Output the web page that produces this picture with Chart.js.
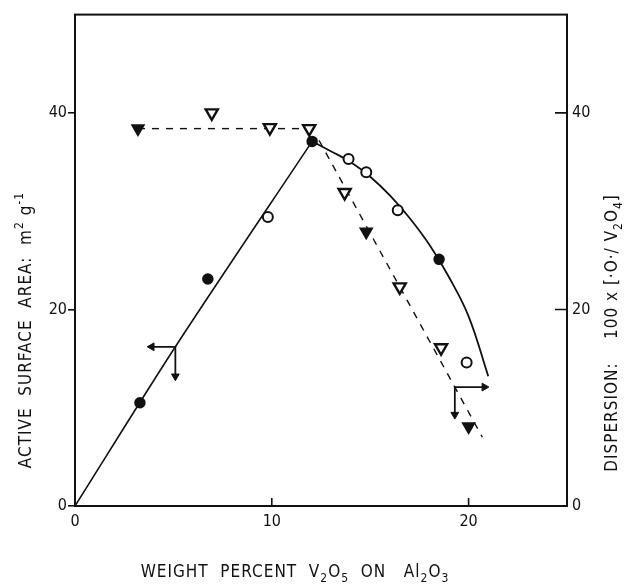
<!DOCTYPE html>
<html>
<head>
<meta charset="utf-8">
<script src="https://cdn.jsdelivr.net/npm/chart.js@4/dist/chart.umd.min.js"></script>
<style>
    body { margin: 0; background: #fff; }
    #wrap { width: 629px; height: 586px; }
</style>
</head>
<body>
<div id="wrap"><canvas id="chart"></canvas></div>
<script>
// Axis ticks
const xTicks = [0, 10, 20];
const yTicks = [0, 20, 40];

// Active surface area (left axis), circles
const areaFilledX = [3.3, 6.75, 12.05, 18.5];
const areaFilledY = [10.5, 23.1, 37.1, 25.1];
const areaOpenX = [9.8, 13.9, 14.8, 16.4, 19.9];
const areaOpenY = [29.4, 35.3, 33.95, 30.1, 14.6];

// Solid fitted curve
const riseX = [0, 5.1, 12.05];
const riseY = [0, 16.2, 37.1];
const fallX = [12.05, 13, 14, 15, 16, 17, 18, 19, 20, 21];
const fallY = [37.1, 36.1, 35.0, 33.5, 31.6, 29.3, 26.6, 23.3, 19.3, 13.2];

// Dispersion (right axis), inverted triangles
const dispFilledX = [3.2, 14.8, 20.0];
const dispFilledY = [38.4, 27.9, 8.1];
const dispOpenX = [6.95, 9.9, 11.9, 13.7, 16.5, 18.6];
const dispOpenY = [40.0, 38.5, 38.4, 31.9, 22.3, 16.1];

// Dashed fitted lines
const flatX = [3.2, 12.0];
const flatY = [38.4, 38.4];
const dropX = [12.4, 16.5, 20.7];
const dropY = [37.2, 22.3, 7.0];

// Axis arrows (stem corner, then the two tips)
const leftArrowX = [3.9, 5.1, 5.1];
const leftArrowY = [16.2, 16.2, 13.2];
const rightArrowX = [20.8, 19.3, 19.3];
const rightArrowY = [12.1, 12.1, 9.3];

const zip = (xs, ys) => xs.map((x, i) => ({ x: x, y: ys[i] }));
const ink = '#111';
const font = "'Liberation Sans Narrow', 'DejaVu Sans Condensed', 'DejaVu Sans', sans-serif";

// Draw a string made of normal / sub / sup parts, centred at (0,0)
function drawRich(ctx, parts, size) {
    const small = Math.round(size * 0.72);
    ctx.letterSpacing = '1px';
    let total = 0;
    parts.forEach(p => {
        ctx.font = (p[1] ? small : size) + 'px ' + font;
        total += ctx.measureText(p[0]).width;
    });
    let x = -total / 2;
    ctx.textBaseline = 'middle';
    ctx.textAlign = 'left';
    parts.forEach(p => {
        ctx.font = (p[1] ? small : size) + 'px ' + font;
        const dy = p[1] === 1 ? size * 0.35 : (p[1] === 2 ? -size * 0.4 : 0);
        ctx.fillText(p[0], x, dy);
        x += ctx.measureText(p[0]).width;
    });
    ctx.letterSpacing = '0px';
}

// Frame, inner ticks and axis titles
const framePlugin = {
    id: 'frame',
    afterDraw(chart) {
        const ctx = chart.ctx;
        const a = chart.chartArea;
        const xs = chart.scales.x;
        const yr = chart.scales.y2;
        ctx.save();
        ctx.strokeStyle = ink;
        ctx.fillStyle = ink;
        ctx.lineWidth = 2;
        ctx.strokeRect(a.left, a.top, a.right - a.left, a.bottom - a.top);

        ctx.lineWidth = 1.6;
        ctx.beginPath();
        xTicks.slice(1).forEach(v => {
            const px = xs.getPixelForValue(v);
            ctx.moveTo(px, a.bottom);
            ctx.lineTo(px, a.bottom - 8);
        });
        yTicks.slice(1).forEach(v => {
            const py = yr.getPixelForValue(v);
            ctx.moveTo(a.right, py);
            ctx.lineTo(a.right - 12, py);
        });
        ctx.stroke();

        // bottom title
        ctx.save();
        ctx.translate(a.left + 220, a.bottom + 67);
        drawRich(ctx, [['WEIGHT  PERCENT  V', 0], ['2', 1], ['O', 0], ['5', 1], ['  ON   Al', 0], ['2', 1], ['O', 0], ['3', 1]], 17);
        ctx.restore();

        // left title
        ctx.save();
        ctx.translate(a.left - 48, a.bottom - 176);
        ctx.rotate(-Math.PI / 2);
        drawRich(ctx, [['ACTIVE  SURFACE  AREA:  m', 0], ['2', 2], [' g', 0], ['-1', 2]], 17);
        ctx.restore();

        // right title
        ctx.save();
        ctx.translate(a.right + 46, a.bottom - 173);
        ctx.rotate(-Math.PI / 2);
        drawRich(ctx, [['DISPERSION:    100 x [\u00b7O\u00b7/ V', 0], ['2', 1], ['O', 0], ['4', 1], [']', 0]], 17);
        ctx.restore();

        ctx.restore();
    }
};

const lineStyle = { showLine: true, pointRadius: 0, borderColor: ink, fill: false };

new Chart(document.getElementById('chart'), {
    type: 'scatter',
    data: {
        datasets: [
            { data: zip(areaFilledX, areaFilledY), pointRadius: 5, pointStyle: 'circle',
              backgroundColor: ink, borderColor: ink, borderWidth: 1.5 },
            { data: zip(areaOpenX, areaOpenY), pointRadius: 5, pointStyle: 'circle',
              backgroundColor: '#fff', borderColor: ink, borderWidth: 2 },
            { data: zip(dispFilledX, dispFilledY), yAxisID: 'y2', pointRadius: 7, pointStyle: 'triangle',
              rotation: 180, backgroundColor: ink, borderColor: ink, borderWidth: 1.5 },
            { data: zip(dispOpenX, dispOpenY), yAxisID: 'y2', pointRadius: 7, pointStyle: 'triangle',
              rotation: 180, backgroundColor: '#fff', borderColor: ink, borderWidth: 2.4 },
            // arrow heads
            { data: zip(leftArrowX, leftArrowY).filter((p, i) => i !== 1), pointStyle: 'triangle',
              pointRadius: 4.5, rotation: [270, 180], backgroundColor: ink, borderColor: ink, borderWidth: 1 },
            { data: zip(rightArrowX, rightArrowY).filter((p, i) => i !== 1), yAxisID: 'y2', pointStyle: 'triangle',
              pointRadius: 4.5, rotation: [90, 180], backgroundColor: ink, borderColor: ink, borderWidth: 1 },
            // arrow stems
            Object.assign({ data: zip(leftArrowX, leftArrowY), borderWidth: 1.8 }, lineStyle),
            Object.assign({ data: zip(rightArrowX, rightArrowY), yAxisID: 'y2', borderWidth: 1.8 }, lineStyle),
            // fitted curves
            Object.assign({ data: zip(riseX, riseY), borderWidth: 1.6, tension: 0.3 }, lineStyle),
            Object.assign({ data: zip(fallX, fallY), borderWidth: 1.8, tension: 0.4 }, lineStyle),
            Object.assign({ data: zip(flatX, flatY), yAxisID: 'y2', borderWidth: 1.4, borderDash: [7, 7] }, lineStyle),
            Object.assign({ data: zip(dropX, dropY), yAxisID: 'y2', borderWidth: 1.4, borderDash: [7, 7] }, lineStyle)
        ]
    },
    options: {
        responsive: true,
        maintainAspectRatio: false,
        animation: false,
        layout: { padding: { top: 12, left: 0, right: 0, bottom: 0 } },
        plugins: { legend: { display: false }, tooltip: { enabled: false } },
        scales: {
            x: {
                type: 'linear', min: 0, max: 25,
                afterBuildTicks: s => { s.ticks = xTicks.map(v => ({ value: v })); },
                afterFit: s => { s.height = 80; },
                grid: { drawOnChartArea: false, drawTicks: false },
                border: { display: false },
                ticks: { color: ink, padding: 6, font: { family: font, size: 16 } }
            },
            y: {
                type: 'linear', min: 0, max: 50, position: 'left',
                afterBuildTicks: s => { s.ticks = yTicks.map(v => ({ value: v })); },
                afterFit: s => { s.width = 75; },
                grid: { drawOnChartArea: false, drawTicks: true, tickLength: 7, color: ink, lineWidth: 1.6 },
                border: { display: false },
                ticks: { color: ink, padding: 1, font: { family: font, size: 16 } }
            },
            y2: {
                type: 'linear', min: 0, max: 50, position: 'right',
                afterBuildTicks: s => { s.ticks = yTicks.map(v => ({ value: v })); },
                afterFit: s => { s.width = 62; },
                grid: { drawOnChartArea: false, drawTicks: false },
                border: { display: false },
                ticks: { color: ink, padding: 5, font: { family: font, size: 16 } }
            }
        }
    },
    plugins: [framePlugin]
});
</script>
</body>
</html>
